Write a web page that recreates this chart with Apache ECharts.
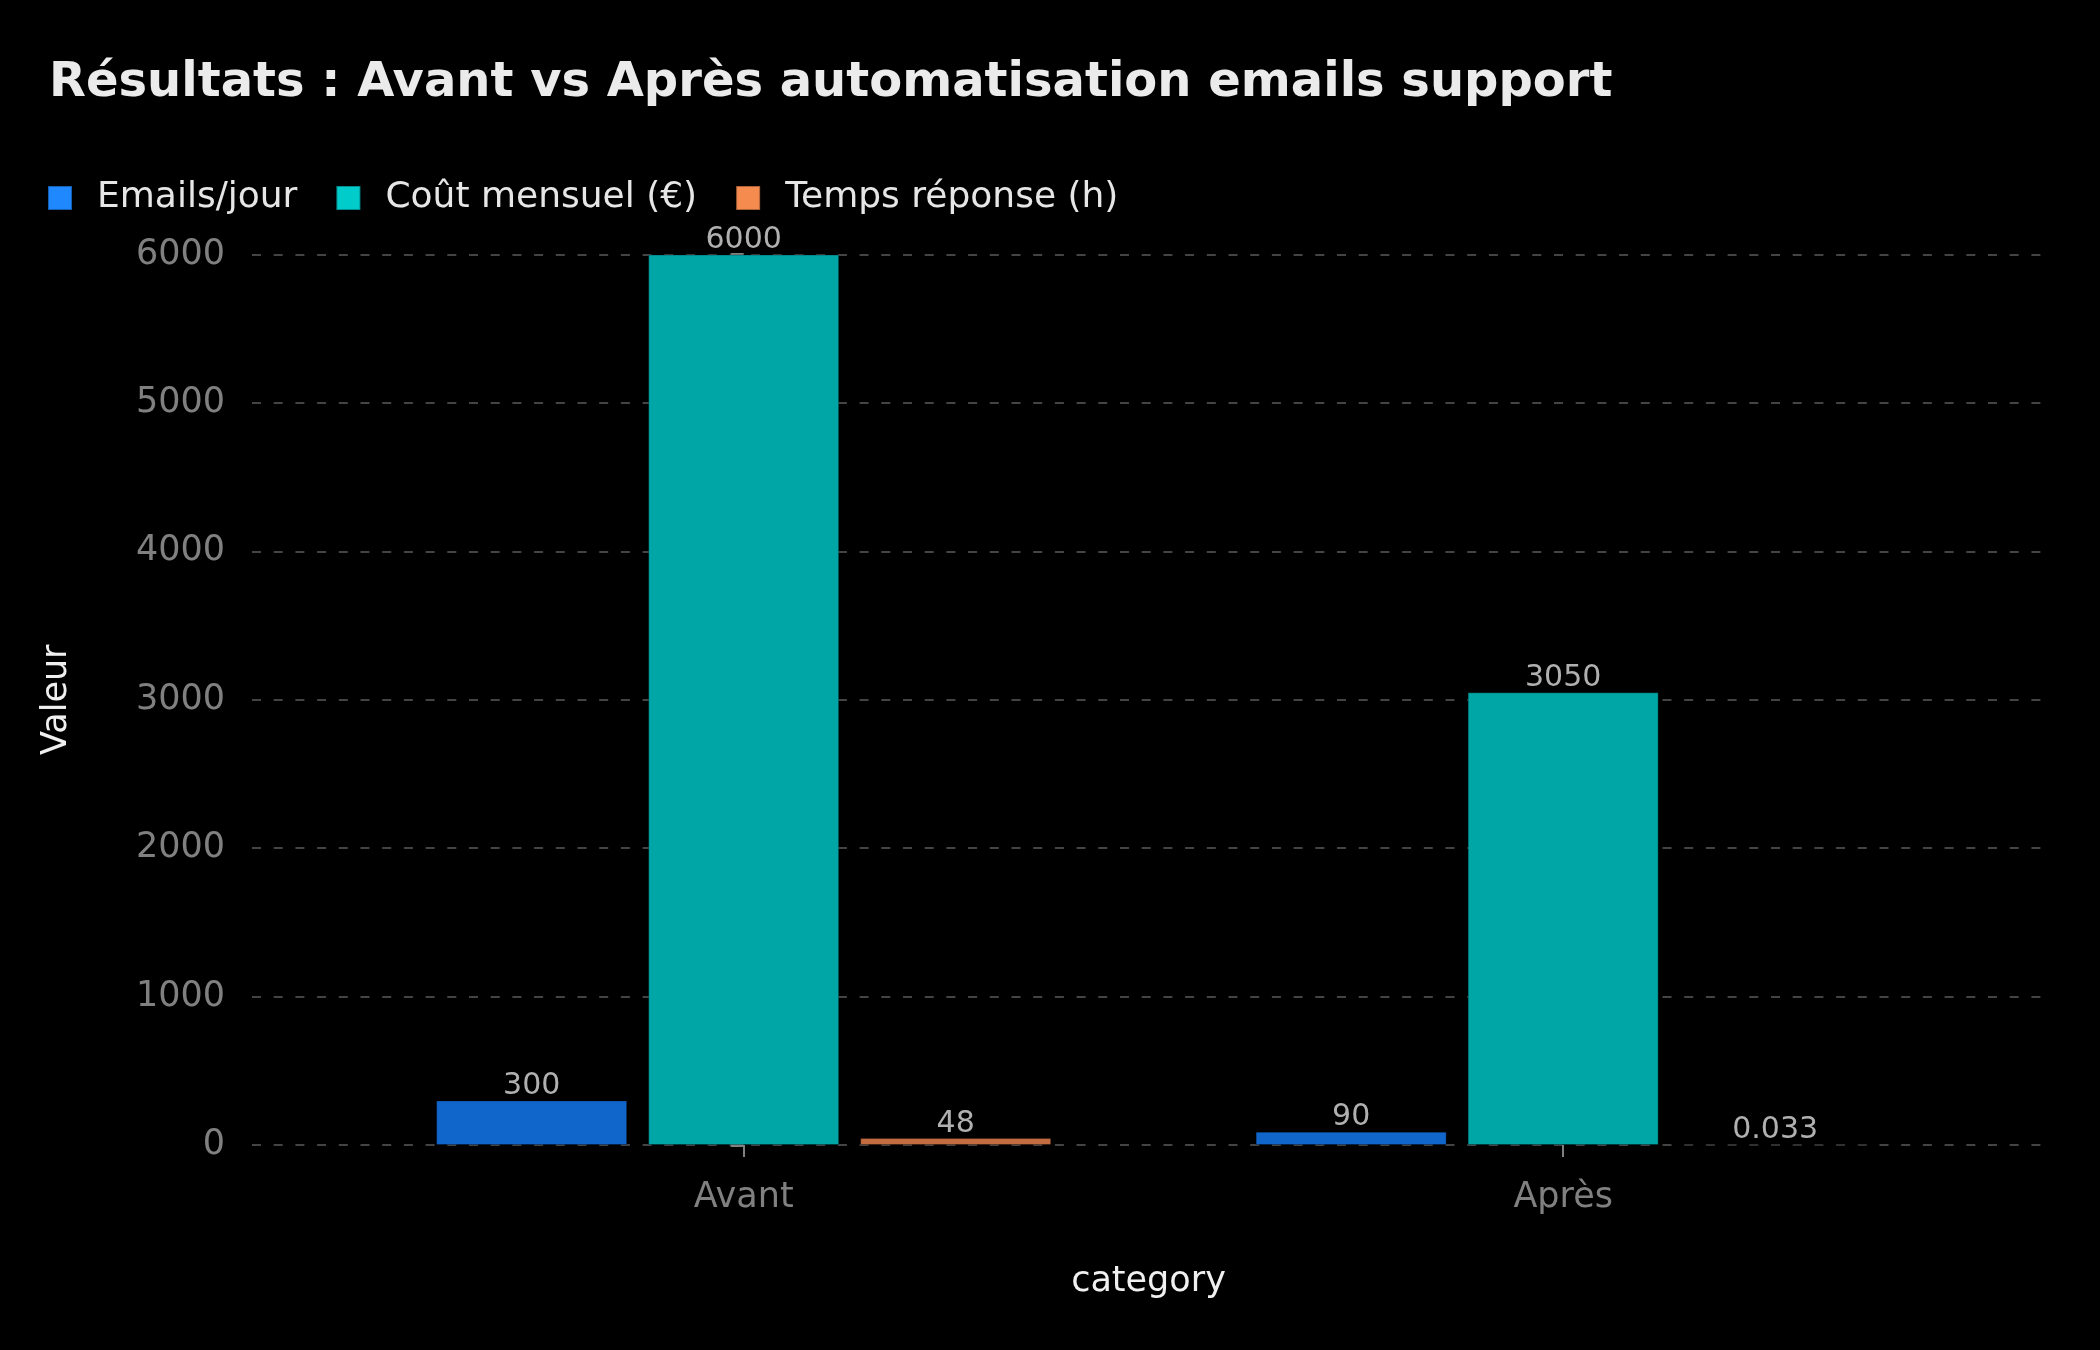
<!DOCTYPE html>
<html>
<head>
<meta charset="utf-8">
<script src="https://cdn.jsdelivr.net/npm/echarts@6/dist/echarts.min.js"></script>
<style>
  html, body { margin: 0; padding: 0; background: #000; }
  #chart { width: 2100px; height: 1350px; }
</style>
</head>
<body>
<div id="chart"></div>
<script>
// données
const categories = ['Avant', 'Après']
const seriesNames = ['Emails/jour', 'Coût mensuel (€)', 'Temps réponse (h)']
const emailsJour = [300, 90]
const coutMensuel = [6000, 3050]
const tempsReponse = [48, 0.033]
const yTicks = [0, 1000, 2000, 3000, 4000, 5000, 6000]

const barColors = ['#1166cc', '#00a5a5', '#c26c3f']
const legendColors = ['#1f88ff', '#00cccc', '#f58b4f']
const font = 'DejaVu Sans'

const chart = echarts.init(document.getElementById('chart'))

// [position, valeur] pour chaque catégorie
function toPoints(values) {
  return values.map((v, i) => [i, v])
}

function makeSeries(name, values, idx) {
  return {
    name: name,
    type: 'bar',
    data: toPoints(values),
    barWidth: 191,
    barGap: '11%',
    itemStyle: {
      color: barColors[idx],
      borderColor: 'rgba(0,0,0,0.3)',
      borderWidth: 1
    },
    label: {
      show: true,
      position: 'top',
      distance: -1,
      color: '#b0b0b0',
      fontFamily: font,
      fontSize: 30,
      formatter: p => String(p.value[1])
    }
  }
}

var option = {
  backgroundColor: '#000',
  animation: false,
  title: {
    text: 'Résultats : Avant vs Après automatisation emails support',
    left: 44,
    top: 55,
    textStyle: {
      color: '#ebebeb',
      fontFamily: font,
      fontWeight: 'bold',
      fontSize: 48
    }
  },
  legend: {
    left: 47,
    top: 180,
    padding: 0,
    itemWidth: 24,
    itemHeight: 24,
    itemGap: 38,
    icon: 'rect',
    textStyle: {
      color: '#e6e6e6',
      fontFamily: font,
      fontSize: 36,
      padding: [0, 0, 0, 20]
    },
    data: seriesNames.map((n, i) => ({ name: n, itemStyle: { color: legendColors[i] } }))
  },
  grid: {
    left: 252,
    right: 55,
    top: 254.5,
    bottom: 205,
    containLabel: false
  },
  xAxis: {
    type: 'value',
    min: -0.6,
    max: 1.588,
    name: 'category',
    nameLocation: 'middle',
    nameGap: 119,
    nameTextStyle: { color: '#f0f0f0', fontFamily: font, fontSize: 35 },
    axisLine: { show: false },
    splitLine: { show: false },
    axisTick: {
      show: true,
      customValues: categories.map((c, i) => i),
      length: 12,
      lineStyle: { color: '#808080', width: 2 }
    },
    axisLabel: {
      customValues: categories.map((c, i) => i),
      formatter: v => categories[Math.round(v)] || '',
      margin: 35,
      color: '#808080',
      fontFamily: font,
      fontSize: 35
    }
  },
  yAxis: {
    type: 'value',
    min: yTicks[0],
    max: yTicks[yTicks.length - 1],
    interval: 1000,
    name: 'Valeur',
    nameLocation: 'middle',
    nameGap: 178,
    nameTextStyle: { color: '#f0f0f0', fontFamily: font, fontSize: 35 },
    axisLine: { show: false },
    axisTick: {
      show: true,
      length: 13,
      lineStyle: { color: '#808080', width: 3 }
    },
    axisLabel: {
      margin: 27,
      color: '#808080',
      fontFamily: font,
      fontSize: 35,
      formatter: v => String(v)
    },
    splitLine: {
      show: true,
      lineStyle: { color: '#444', width: 2, type: [9, 12.7] }
    }
  },
  series: [
    makeSeries(seriesNames[0], emailsJour, 0),
    makeSeries(seriesNames[1], coutMensuel, 1),
    makeSeries(seriesNames[2], tempsReponse, 2)
  ]
}

chart.setOption(option)
</script>
</body>
</html>
